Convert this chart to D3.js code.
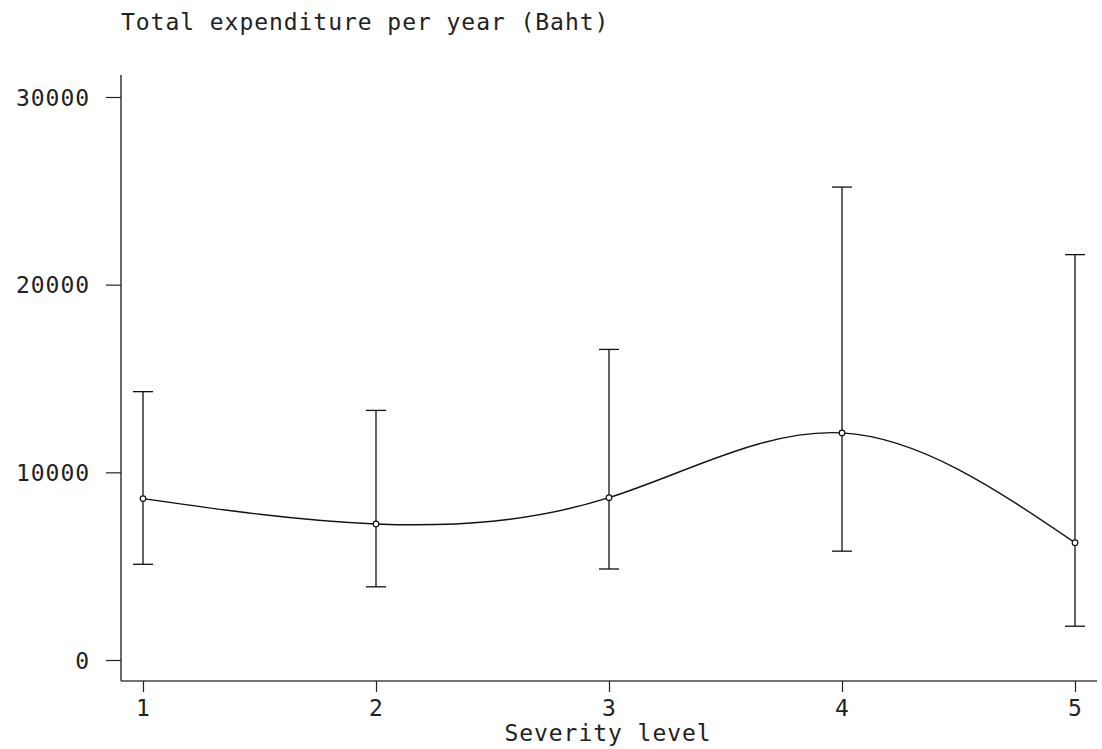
<!DOCTYPE html>
<html>
<head>
<meta charset="utf-8">
<script src="https://cdn.jsdelivr.net/npm/d3@7"></script>
<style>
  html, body { margin: 0; padding: 0; background: #fff; }
  svg { display: block; }
  text { font-family: "DejaVu Sans Mono", "Liberation Mono", monospace; font-size: 23px; fill: #222; letter-spacing: 0.95px; }
</style>
</head>
<body>
<svg id="chart" width="1102" height="749"></svg>
<script>
// Severity levels and mean total yearly expenditure with interval bounds (Baht)
const severity = [1, 2, 3, 4, 5];
const meanSpend = [8600, 7250, 8650, 12100, 6250];
const upperSpend = [14300, 13300, 16550, 25200, 21600];
const lowerSpend = [5100, 3900, 4850, 5800, 1800];
const yTicks = [0, 10000, 20000, 30000];
const xTicks = [1, 2, 3, 4, 5];

const svg = d3.select("#chart");

const x = d3.scaleLinear().domain([1, 5]).range([143, 1075]);
const y = d3.scaleLinear().domain([0, 30000]).range([660, 97]);

const axisLeftX = 121, axisBottomY = 681;
const axisColor = "#444";

// axis lines, extended past the outermost ticks
svg.append("line")
  .attr("x1", axisLeftX).attr("x2", axisLeftX)
  .attr("y1", 75).attr("y2", axisBottomY)
  .attr("stroke", axisColor).attr("stroke-width", 1.6);
svg.append("line")
  .attr("x1", axisLeftX).attr("x2", 1097)
  .attr("y1", axisBottomY).attr("y2", axisBottomY)
  .attr("stroke", axisColor).attr("stroke-width", 1.6);

// y axis
const gy = svg.append("g")
  .attr("transform", `translate(${axisLeftX},0)`)
  .call(d3.axisLeft(y).tickValues(yTicks).tickSize(15).tickPadding(16).tickFormat(d3.format("d")));
gy.select(".domain").remove();
gy.selectAll(".tick line").attr("stroke", "#222").attr("stroke-width", 1.2);
gy.selectAll(".tick text").attr("font-size", null).attr("font-family", null).attr("fill", null).attr("dy", "0.36em");

// x axis
const gx = svg.append("g")
  .attr("transform", `translate(0,${axisBottomY})`)
  .call(d3.axisBottom(x).tickValues(xTicks).tickSize(11).tickPadding(8).tickFormat(d3.format("d")));
gx.select(".domain").remove();
gx.selectAll(".tick line").attr("stroke", "#222").attr("stroke-width", 1.2);
gx.selectAll(".tick text").attr("font-size", null).attr("font-family", null).attr("fill", null);

// axis titles
svg.append("text").attr("x", 121).attr("y", 30).text("Total expenditure per year (Baht)");
svg.append("text").attr("x", 608).attr("y", 741).attr("text-anchor", "middle").text("Severity level");

const rows = severity.map((s, i) => ({ s, m: meanSpend[i], hi: upperSpend[i], lo: lowerSpend[i] }));

// interval bars with caps
const capHalf = 10;
const bars = svg.append("g").attr("stroke", "#111").attr("stroke-width", 1.3);
bars.selectAll(".stem").data(rows).join("line")
  .attr("x1", d => x(d.s)).attr("x2", d => x(d.s))
  .attr("y1", d => y(d.hi)).attr("y2", d => y(d.lo));
bars.selectAll(".capHi").data(rows).join("line")
  .attr("x1", d => x(d.s) - capHalf).attr("x2", d => x(d.s) + capHalf)
  .attr("y1", d => y(d.hi)).attr("y2", d => y(d.hi));
bars.selectAll(".capLo").data(rows).join("line")
  .attr("x1", d => x(d.s) - capHalf).attr("x2", d => x(d.s) + capHalf)
  .attr("y1", d => y(d.lo)).attr("y2", d => y(d.lo));

// smoothed mean curve
const line = d3.line().x(d => x(d.s)).y(d => y(d.m)).curve(d3.curveNatural);
svg.append("path").datum(rows)
  .attr("d", line).attr("fill", "none").attr("stroke", "#111").attr("stroke-width", 1.4);

// mean markers
svg.append("g").selectAll("circle").data(rows).join("circle")
  .attr("cx", d => x(d.s)).attr("cy", d => y(d.m)).attr("r", 2.8)
  .attr("fill", "#fff").attr("stroke", "#111").attr("stroke-width", 1.2);
</script>
</body>
</html>
